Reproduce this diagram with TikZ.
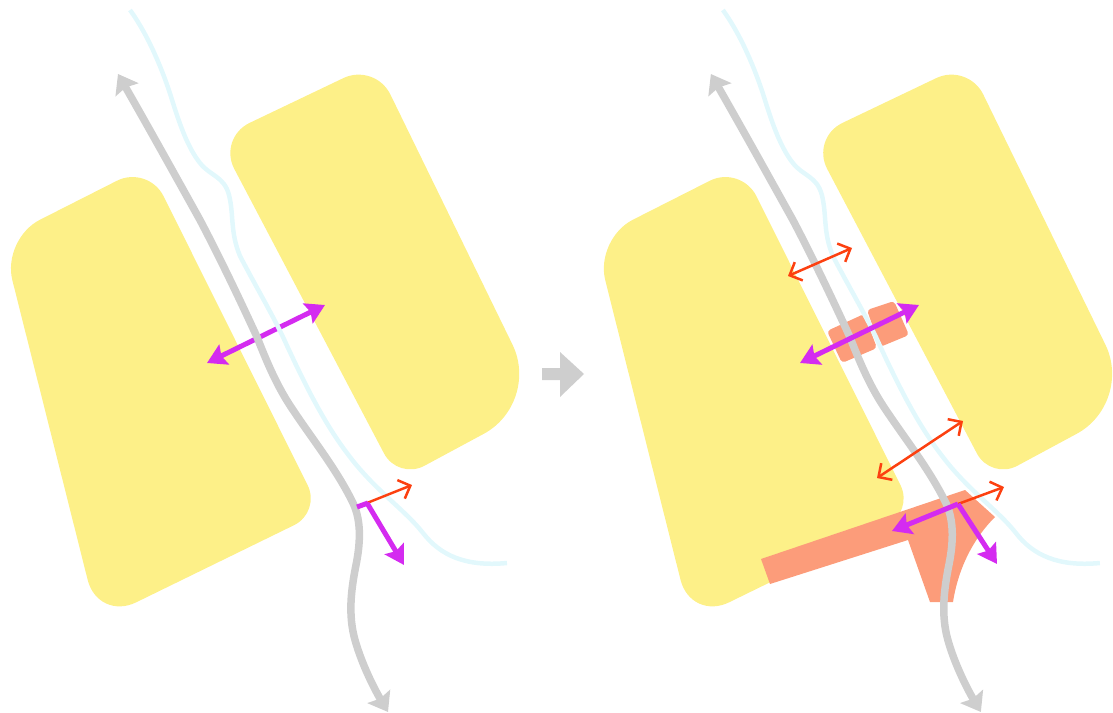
\documentclass[tikz,border=0pt]{standalone}
\usepackage{xcolor}
\usetikzlibrary{arrows.meta}
\definecolor{blockyellow}{RGB}{253,240,136}
\definecolor{padorange}{RGB}{252,156,122}
\definecolor{roadgray}{RGB}{206,206,206}
\definecolor{streamblue}{RGB}{226,248,252}
\definecolor{widthpink}{RGB}{212,43,240}
\definecolor{gapred}{RGB}{252,64,16}

% Blocks, stream and road shared by both panels
\newcommand{\siteblocks}{%
  \fill[block] (2,239) [rounded corners=0.7cm] -- (148,165)
      [rounded corners=0.6cm] -- (321,512)
      [rounded corners=0.85cm] -- (98,621)
      [rounded corners=0.85cm] -- cycle;
  \fill[block] (218,138) [rounded corners=0.7cm] -- (375,63)
      [rounded corners=1.3cm] -- (541,403)
      [rounded corners=0.6cm] -- (398,480)
      [rounded corners=0.7cm] -- cycle;
}
\newcommand{\siteroad}{%
  \draw[stream] (130,10) .. controls (148,35) and (163,70) .. (173,103)
      .. controls (180,125) and (188,148) .. (200,163)
      .. controls (210,176) and (224,176) .. (229,195)
      .. controls (234,215) and (230,232) .. (240,256)
      .. controls (255,285) and (270,310) .. (283,337)
      .. controls (305,385) and (325,425) .. (350,457)
      .. controls (375,490) and (405,510) .. (423,533)
      .. controls (440,555) and (465,567) .. (507,563);
  \draw[road,roadtip-roadtip] (118,74) .. controls (150,130) and (175,175) .. (200,220)
      .. controls (220,258) and (240,300) .. (257,337)
      .. controls (268,365) and (278,388) .. (293,410)
      .. controls (313,440) and (337,470) .. (353,503)
      .. controls (362,522) and (360,545) .. (356,565)
      .. controls (351,590) and (348,615) .. (355,640)
      .. controls (362,665) and (375,690) .. (388,712);
}

\begin{document}
\begin{tikzpicture}[
  x=0.02cm,y=-0.02cm,
  block/.style={fill=blockyellow,rounded corners=0.85cm},
  pad/.style={fill=padorange,rounded corners=0.07cm},
  stream/.style={draw=streamblue,line width=0.09cm},
  road/.style={draw=roadgray,line width=0.15cm},
  roadtip/.tip={Stealth[length=0.36cm,width=0.52cm,inset=0.05cm]},
  wide/.style={draw=widthpink,line width=0.1cm},
  widetip/.tip={Stealth[length=0.38cm,width=0.44cm,inset=0.06cm]},
  gap/.style={draw=gapred,line width=0.05cm},
  gaptip/.tip={Straight Barb[length=0.2cm,width=0.4cm,line width=0.05cm]},
]
\useasboundingbox (0,0) rectangle (1113,713);

%% Left panel
\siteblocks
\draw[wide,widetip-widetip] (207,363) -- (325,305);
\siteroad
\draw[gap,-gaptip] (367,503) -- (412,485);
\draw[wide] (357,507) -- (368,503);
\draw[wide,-widetip] (367,503) -- (404,565);

% Arrow between panels
\fill[roadgray] (542,368) -- (560,368) -- (560,352) -- (584,374)
    -- (560,397) -- (560,380) -- (542,380) -- cycle;

%% Right panel
\begin{scope}[xshift=11.86cm]
  \siteblocks
\end{scope}

% Crossing pads
\fill[pad] (827,331) -- (864,314) -- (877,348) -- (842,363) -- cycle;
\fill[pad] (867,310) -- (894,301) -- (909,335) -- (880,347) -- cycle;

% Widened junction
\fill[padorange] (761,559) -- (965,490) -- (995,517)
    .. controls (972,540) and (958,570) .. (953,602)
    -- (930,602) -- (908,540) -- (770,584) -- cycle;

\begin{scope}[xshift=11.86cm]
  \siteroad
\end{scope}

\draw[wide,widetip-widetip] (800,363) -- (919,305);
\draw[gap,gaptip-gaptip] (788,276) -- (852,248);
\draw[gap,gaptip-gaptip] (877,478) -- (963,421);
\draw[gap,-gaptip] (958,504) -- (1004,487);
\draw[wide,-widetip] (958,504) -- (892,531);
\draw[wide,-widetip] (958,504) -- (997,564);

\end{tikzpicture}
\end{document}
